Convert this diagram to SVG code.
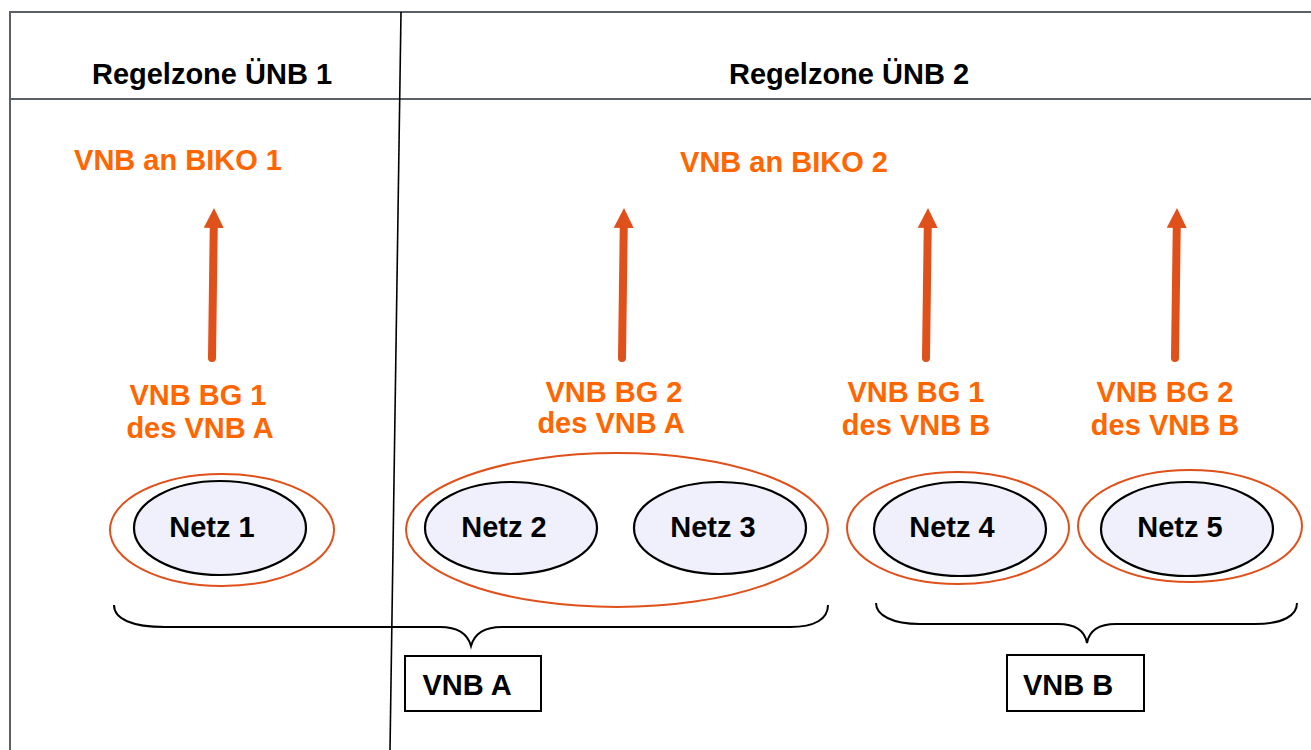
<svg xmlns="http://www.w3.org/2000/svg" width="1311" height="750" viewBox="0 0 1311 750">
<style>
text{font-family:"Liberation Sans",Arial,sans-serif;font-weight:bold;font-size:29px}
.hdr{fill:#000;text-anchor:middle}
.org{fill:#ff6600;text-anchor:middle}
.blk{fill:#000;text-anchor:middle}
.frame{stroke:#5a6066;stroke-width:2;fill:none}
.div{stroke:#000;stroke-width:1.6;fill:none}
.outer{fill:none;stroke:#e0501a;stroke-width:2}
.inner{fill:#f0f0fd;stroke:#000;stroke-width:2.2}
.arrow{stroke:#e0501a;stroke-width:8;stroke-linecap:round;fill:none;marker-end:url(#ah)}
.brace{fill:none;stroke:#000;stroke-width:2}
.box{fill:#fff;stroke:#000;stroke-width:2}
</style>
<defs>
<marker id="ah" markerUnits="userSpaceOnUse" markerWidth="24" markerHeight="24" viewBox="0 0 24 24" refX="4" refY="12" orient="auto">
<path d="M0,2 L20,12 L0,22 Z" fill="#e0501a"/>
</marker>
</defs>
<rect width="1311" height="750" fill="#fff"/>
<g id="frame">
<path class="frame" d="M10,750 L10,12 L1311,12"/>
<path class="frame" d="M10,99 L1311,99"/>
<path class="div" d="M401,12 L390,750"/>
</g>
<g id="headers">
<text class="hdr" x="212" y="84">Regelzone ÜNB 1</text>
<text class="hdr" x="849" y="84">Regelzone ÜNB 2</text>
</g>
<g id="biko1"><text class="org" x="178" y="170">VNB an BIKO 1</text></g>
<g id="biko2"><text class="org" x="784" y="172">VNB an BIKO 2</text></g>
<g id="connectors">
<path class="arrow" d="M212,358 L213.8,224"/>
<path class="arrow" d="M622,358 L623.8,224"/>
<path class="arrow" d="M926,358 L927.8,224"/>
<path class="arrow" d="M1175,358 L1176.8,224"/>
</g>
<g id="bg1a">
<text class="org" x="198" y="405">VNB BG 1</text>
<text class="org" x="200" y="438">des VNB A</text>
<ellipse class="outer" cx="222" cy="530" rx="112" ry="56"/>
<ellipse class="inner" cx="220" cy="528" rx="86" ry="47"/>
<text class="blk" x="212" y="537">Netz 1</text>
</g>
<g id="bg2a">
<text class="org" x="614" y="402">VNB BG 2</text>
<text class="org" x="611" y="433">des VNB A</text>
<ellipse class="outer" cx="617" cy="530" rx="211" ry="77"/>
<ellipse class="inner" cx="511" cy="528" rx="86" ry="46"/>
<text class="blk" x="504" y="537">Netz 2</text>
<ellipse class="inner" cx="720" cy="528" rx="86" ry="46"/>
<text class="blk" x="713" y="537">Netz 3</text>
</g>
<g id="bg1b">
<text class="org" x="916" y="402">VNB BG 1</text>
<text class="org" x="916" y="435">des VNB B</text>
<ellipse class="outer" cx="958" cy="528" rx="111" ry="56"/>
<ellipse class="inner" cx="960" cy="529" rx="86" ry="47"/>
<text class="blk" x="952" y="537">Netz 4</text>
</g>
<g id="bg2b">
<text class="org" x="1165" y="402">VNB BG 2</text>
<text class="org" x="1165" y="435">des VNB B</text>
<ellipse class="outer" cx="1190" cy="526" rx="112" ry="56"/>
<ellipse class="inner" cx="1187" cy="529" rx="86" ry="47"/>
<text class="blk" x="1180" y="537">Netz 5</text>
</g>
<g id="braces">
<path class="brace" d="M114,605 C114,619 132,627 165,627 L440,627 C459,627 468,635 471,646 C474,635 483,627 502,627 L790,627 C815,627 828,619 828,605"/>
<path class="brace" d="M876,603 C876,615 892,624 920,624 L1058,624 C1077,624 1085,632 1087,643 C1089,632 1097,624 1116,624 L1255,624 C1284,624 1297,615 1297,603"/>
</g>
<g id="vnbA">
<rect class="box" x="405" y="656" width="136" height="55"/>
<text class="blk" x="467" y="695">VNB A</text>
</g>
<g id="vnbB">
<rect class="box" x="1007" y="655" width="137" height="56"/>
<text class="blk" x="1068" y="695">VNB B</text>
</g>
</svg>
